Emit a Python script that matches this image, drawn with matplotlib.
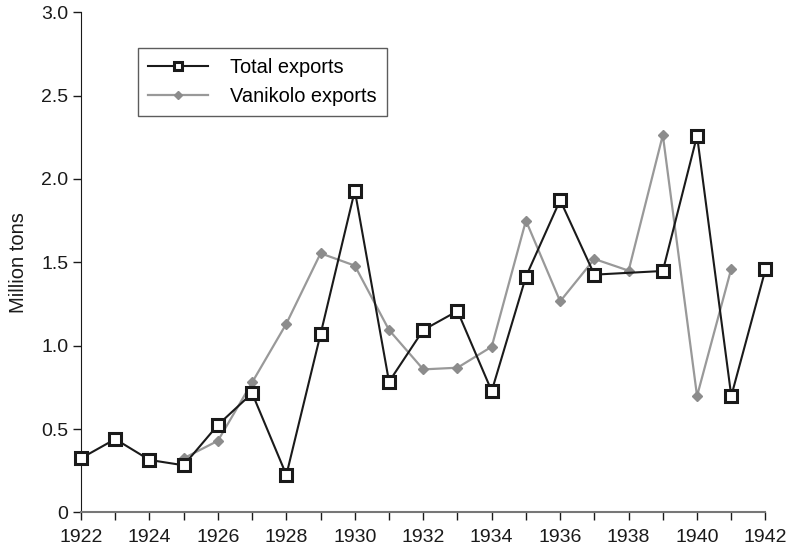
import numpy as np
import matplotlib
matplotlib.use("Agg")
import matplotlib.pyplot as plt

plt.rcParams['font.family'] = ['Liberation Sans', 'DejaVu Sans']

# data (million tons)
total_years = [1922, 1923, 1924, 1925, 1926, 1927, 1928, 1929, 1930, 1931,
               1932, 1933, 1934, 1935, 1936, 1937, 1939, 1940, 1941, 1942]
total_exports = [0.325, 0.44, 0.315, 0.283, 0.525, 0.715, 0.225, 1.07, 1.93, 0.784,
                 1.094, 1.208, 0.728, 1.414, 1.873, 1.426, 1.448, 2.259, 0.698, 1.458]

van_years = [1925, 1926, 1927, 1928, 1929, 1930, 1931, 1932, 1933, 1934,
             1935, 1936, 1937, 1938, 1939, 1940, 1941]
van_exports = [0.325, 0.43, 0.78, 1.132, 1.554, 1.48, 1.094, 0.858, 0.868, 0.994,
               1.75, 1.266, 1.52, 1.45, 2.263, 0.698, 1.462]

xticks_major = np.arange(1922, 1943, 2)
yticks = [0, 0.5, 1.0, 1.5, 2.0, 2.5, 3.0]
ytick_labels = ["0", "0.5", "1.0", "1.5", "2.0", "2.5", "3.0"]

fig = plt.figure(figsize=(8.03, 5.51), dpi=100)
ax = fig.add_axes([0.1009, 0.0699, 0.8524, 0.9081])

ax.plot(total_years, total_exports, color="#1a1a1a", lw=1.5, marker="s", ms=8,
        mfc="white", mec="#1a1a1a", mew=2.2, label="Total exports", zorder=3)
ax.plot(van_years, van_exports, color="#999999", lw=1.6, marker="D", ms=5.5,
        mfc="#8c8c8c", mec="#8c8c8c", label="Vanikolo exports", zorder=2)

ax.set_xlim(1922, 1942)
ax.set_ylim(0, 3.0)
ax.set_xticks(xticks_major)
ax.set_xticks(np.arange(1922, 1943, 1), minor=True)
ax.set_yticks(yticks)
ax.set_yticklabels(ytick_labels)

for s in ["top", "right"]:
    ax.spines[s].set_visible(False)
ax.spines["left"].set_color("#1a1a1a")
ax.spines["bottom"].set_color("#777777")
ax.spines["bottom"].set_linewidth(1.5)

ax.tick_params(axis="both", direction="out", labelsize=14, colors="#1a1a1a", length=6, width=1)
ax.tick_params(axis="x", which="minor", direction="out", length=6, width=1, colors="#1a1a1a")
ax.tick_params(axis="x", pad=6)
ax.tick_params(axis="y", pad=3)

for line in ax.get_lines():
    line.set_clip_on(False)

ax.set_ylabel("Million tons", fontsize=14.5, color="#1a1a1a", labelpad=10)

leg = ax.legend(loc="upper left", bbox_to_anchor=(0.0833, 0.928), fontsize=14.4,
                frameon=True, fancybox=False, edgecolor="#333333", handlelength=3,
                handletextpad=1.1, borderpad=0.5, labelspacing=0.5, borderaxespad=0,
                markerscale=0.8)
leg.get_frame().set_linewidth(1.0)

fig.savefig("out.png", dpi=100)
